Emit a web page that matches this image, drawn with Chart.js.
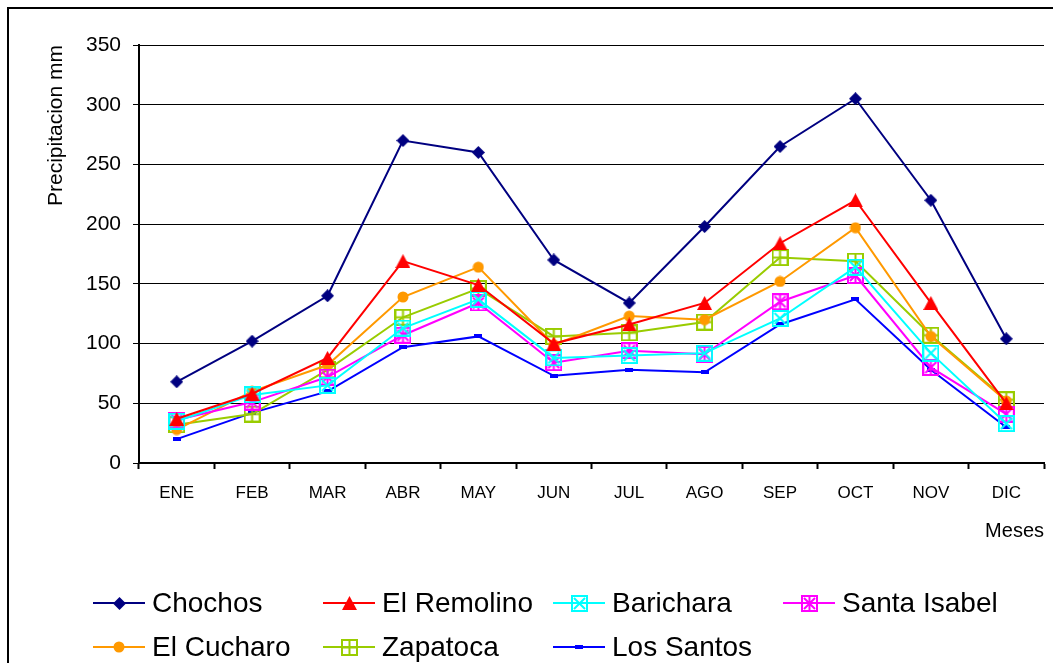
<!DOCTYPE html>
<html>
<head>
<meta charset="utf-8">
<script src="https://cdn.jsdelivr.net/npm/chart.js@4/dist/chart.umd.min.js"></script>
<style>
  html, body { margin: 0; padding: 0; background: #fff; }
  canvas { display: block; }
</style>
</head>
<body>
<canvas id="chart" width="1053" height="663"></canvas>
<script>
// datos de precipitacion mensual (mm)
const meses = ['ENE', 'FEB', 'MAR', 'ABR', 'MAY', 'JUN', 'JUL', 'AGO', 'SEP', 'OCT', 'NOV', 'DIC'];
const chochos     = [68, 102, 140, 270, 260, 170, 134, 198, 265, 305, 220, 104];
const elRemolino  = [37, 58, 88, 169, 149, 100, 116, 134, 184, 220, 134, 50];
const barichara   = [35, 57, 65, 113, 137, 88, 90, 92, 121, 164, 92, 33];
const santaIsabel = [36, 51, 72, 107, 134, 84, 94, 91, 135, 157, 80, 41];
const elCucharo   = [28, 60, 82, 139, 164, 99, 123, 120, 152, 197, 106, 52];
const zapatoca    = [32, 41, 78, 122, 146, 106, 109, 118, 172, 169, 107, 53];
const losSantos   = [20, 42, 60, 97, 106, 73, 78, 76, 116, 137, 78, 30];
const yTicks = [0, 50, 100, 150, 200, 250, 300, 350];

const FONT = "'Liberation Sans', Arial, sans-serif";

function marker(w, h, draw) {
  const c = document.createElement('canvas');
  c.width = w; c.height = h;
  draw(c.getContext('2d'));
  return c;
}

const diamond = marker(13, 13, g => {
  g.fillStyle = '#000080';
  g.beginPath(); g.moveTo(6.5, 0); g.lineTo(13, 6.5); g.lineTo(6.5, 13); g.lineTo(0, 6.5); g.closePath(); g.fill();
});
const triangle = marker(15, 14, g => {
  g.fillStyle = '#ff0000';
  g.beginPath(); g.moveTo(7.5, 0); g.lineTo(15, 14); g.lineTo(0, 14); g.closePath(); g.fill();
});
const circle = marker(12, 12, g => {
  g.fillStyle = '#ff9900';
  g.beginPath(); g.arc(6, 6, 5.5, 0, Math.PI * 2); g.fill();
});
const dash = marker(8, 4, g => {
  g.fillStyle = '#0000ff';
  g.fillRect(0, 0, 8, 4);
});
function boxMarker(color, kind) {
  return marker(17, 17, g => {
    g.strokeStyle = color; g.lineWidth = 2;
    g.strokeRect(1, 1, 15, 15);
    g.beginPath();
    if (kind === 'x' || kind === 'star') {
      g.moveTo(3, 3); g.lineTo(14, 14); g.moveTo(14, 3); g.lineTo(3, 14);
    }
    if (kind === 'star' || kind === 'plus') {
      g.moveTo(8.5, 2); g.lineTo(8.5, 15);
    }
    if (kind === 'plus') {
      g.moveTo(2, 8.5); g.lineTo(15, 8.5);
    }
    g.stroke();
  });
}
const boxX = boxMarker('#00ffff', 'x');
const boxStar = boxMarker('#ff00ff', 'star');
const boxPlus = boxMarker('#99cc00', 'plus');

function serie(label, data, color, img) {
  return {
    label, data,
    borderColor: color, backgroundColor: color,
    borderWidth: 2, pointStyle: img, pointRadius: 6,
    tension: 0, fill: false
  };
}

const series = [
  serie('Chochos', chochos, '#000080', diamond),
  serie('El Remolino', elRemolino, '#ff0000', triangle),
  serie('Barichara', barichara, '#00ffff', boxX),
  serie('Santa Isabel', santaIsabel, '#ff00ff', boxStar),
  serie('El Cucharo', elCucharo, '#ff9900', circle),
  serie('Zapatoca', zapatoca, '#99cc00', boxPlus),
  serie('Los Santos', losSantos, '#0000ff', dash)
];

// marco, titulo del eje y leyenda en cuadricula
const extras = {
  id: 'extras',
  beforeDraw(chart) {
    const ctx = chart.ctx;
    ctx.save();
    ctx.fillStyle = '#fff';
    ctx.fillRect(0, 0, chart.width, chart.height);
    ctx.strokeStyle = '#000';
    ctx.lineWidth = 2;
    ctx.strokeRect(8, 8, 1100, 700);
    ctx.restore();
  },
  afterDraw(chart) {
    const ctx = chart.ctx;
    ctx.save();
    ctx.fillStyle = '#000';
    ctx.font = '21px ' + FONT;
    ctx.translate(67, chart.chartArea.top);
    ctx.rotate(-Math.PI / 2);
    ctx.textAlign = 'right';
    ctx.textBaseline = 'bottom';
    ctx.fillText('Precipitacion mm', 0, 0);
    ctx.restore();

    const cols = [93, 323, 553, 783];
    const rows = [603, 647];
    ctx.save();
    ctx.font = '28px ' + FONT;
    ctx.textBaseline = 'middle';
    series.forEach((s, i) => {
      const x = cols[i % 4], y = rows[Math.floor(i / 4)];
      ctx.strokeStyle = s.borderColor;
      ctx.lineWidth = 2;
      ctx.beginPath(); ctx.moveTo(x, y); ctx.lineTo(x + 52, y); ctx.stroke();
      const img = s.pointStyle;
      ctx.drawImage(img, Math.round(x + 26 - img.width / 2), Math.round(y - img.height / 2));
      ctx.fillStyle = '#000';
      ctx.fillText(s.label, x + 59, y + 1);
    });
    ctx.restore();
  }
};

new Chart(document.getElementById('chart'), {
  type: 'line',
  data: { labels: meses, datasets: series },
  options: {
    responsive: false,
    animation: false,
    layout: { padding: { left: 0, top: 45, right: 9, bottom: 115 } },
    plugins: { legend: { display: false }, tooltip: { enabled: false } },
    scales: {
      x: {
        offset: true,
        afterFit: s => { s.height = 85; },
        grid: { offset: true, drawOnChartArea: false, drawTicks: true, tickLength: 6, tickColor: '#000', tickWidth: 2 },
        border: { display: true, color: '#000', width: 2 },
        ticks: { color: '#000', font: { family: FONT, size: 17 }, padding: 14, maxRotation: 0 },
        title: { display: true, text: 'Meses', align: 'end', color: '#000', font: { family: FONT, size: 20 }, padding: { top: 4, bottom: 5 } }
      },
      y: {
        min: 0, max: 350,
        afterFit: s => { s.width = 139; },
        afterBuildTicks: s => { s.ticks = yTicks.map(v => ({ value: v })); },
        grid: { color: '#000', lineWidth: 1, drawTicks: true, tickLength: 6, tickColor: '#000' },
        border: { display: true, color: '#000', width: 2 },
        ticks: { color: '#000', font: { family: FONT, size: 21 }, padding: 12 }
      }
    }
  },
  plugins: [extras]
});
</script>
</body>
</html>
